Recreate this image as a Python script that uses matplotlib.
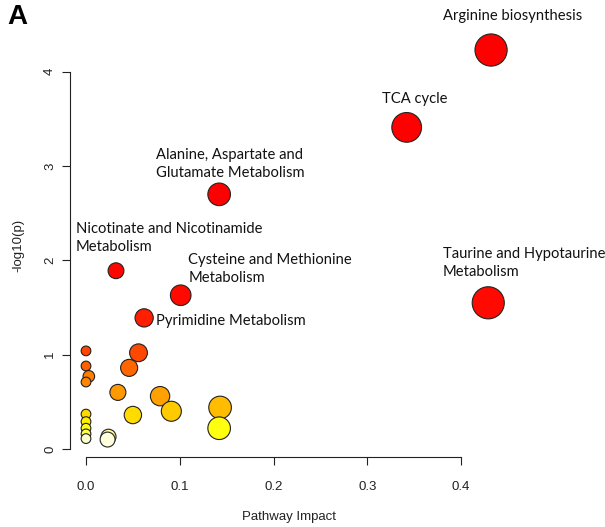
import matplotlib
matplotlib.use("Agg")
import matplotlib.pyplot as plt
import numpy as np
from matplotlib.colors import LinearSegmentedColormap

# pathway impact and -log10(p), labelled pathways first
impact = [0.432, 0.342, 0.142, 0.032, 0.101, 0.429, 0.062,
          0.0, 0.056, 0.0, 0.046, 0.003, 0.0, 0.034, 0.079, 0.143,
          0.091, 0.0, 0.050, 0.0, 0.142, 0.0, 0.0, 0.0, 0.024, 0.023]
neglogp = [4.23, 3.41, 2.70, 1.89, 1.63, 1.55, 1.39,
           1.04, 1.02, 0.88, 0.86, 0.77, 0.71, 0.60, 0.56, 0.44,
           0.40, 0.37, 0.36, 0.29, 0.22, 0.22, 0.16, 0.11, 0.13, 0.10]

labels = ["Arginine biosynthesis", "TCA cycle",
          "Alanine, Aspartate and\nGlutamate Metabolism",
          "Nicotinate and Nicotinamide\nMetabolism",
          "Cysteine and Methionine\nMetabolism",
          "Taurine and Hypotaurine\nMetabolism",
          "Pyrimidine Metabolism"]
label_pos = [(0.3805, 4.59), (0.3154, 3.71), (0.0743, 3.02), (-0.011, 2.24),
             (0.109, 1.91), (0.3805, 1.97), (0.0743, 1.36)]

x = np.array(impact)
y = np.array(neglogp)
p = 10 ** (-y)

# heat-like colour ramp over the p-value
heat = LinearSegmentedColormap.from_list("heat", [
    (0.0, "#ff0000"), (0.03, "#ff0a00"), (0.045, "#ff2a00"), (0.09, "#ff4500"),
    (0.13, "#ff6000"), (0.17, "#ff7f00"), (0.25, "#ff9900"), (0.37, "#ffbf00"),
    (0.44, "#ffdd00"), (0.58, "#ffff00"), (0.70, "#ffff50"), (0.76, "#ffffc0"),
    (0.80, "#ffffe0"), (1.0, "#ffffe0")])

# radius grows with sqrt of impact (points)
radius = 3.5 + 12.3 * np.sqrt(x)
sizes = (2 * radius) ** 2

fig = plt.figure(figsize=(6.05, 5.27), dpi=100)
ax = fig.add_axes([70 / 605, 70 / 527, 437 / 605, 423 / 527])
ax.set_xlim(-0.01707, 0.449)
ax.set_ylim(-0.085, 4.40)

order = np.argsort(-y)
ax.scatter(x[order], y[order], s=sizes[order], c=heat(p[order]),
           edgecolors="#222222", linewidths=0.8, zorder=3, clip_on=False)

for lab, (lx, ly) in zip(labels, label_pos):
    ax.text(lx, ly, lab, ha="left", va="center", fontsize=10.6,
            family="Lato", color="#111111", linespacing=1.4)

for s in ["top", "right"]:
    ax.spines[s].set_visible(False)
ax.spines["left"].set_bounds(0, 4)
ax.spines["bottom"].set_bounds(0, 0.4)
for s in ["left", "bottom"]:
    ax.spines[s].set_linewidth(0.8)
    ax.spines[s].set_color("#222222")

ax.set_xticks([0.0, 0.1, 0.2, 0.3, 0.4])
ax.set_xticklabels(["0.0", "0.1", "0.2", "0.3", "0.4"])
ax.set_yticks([0, 1, 2, 3, 4])
ax.tick_params(axis="both", direction="out", length=6, width=0.8,
               color="#222222", labelsize=9.5, labelcolor="#222222")
ax.tick_params(axis="x", pad=11)
ax.tick_params(axis="y", pad=4)
for t in ax.get_yticklabels():
    t.set_rotation(90)
    t.set_va("center")
for t in ax.get_xticklabels() + ax.get_yticklabels():
    t.set_family("Liberation Sans")

ax.set_xlabel("Pathway Impact", fontsize=9.5, family="Liberation Sans",
              color="#222222", labelpad=13)
ax.set_ylabel("-log10(p)", fontsize=9.5, family="Liberation Sans",
              color="#222222", labelpad=14)

fig.text(0.012, 0.968, "A", fontsize=20, fontweight="bold",
         family="Liberation Sans", va="center", ha="left")

fig.savefig("out.png", dpi=100)
